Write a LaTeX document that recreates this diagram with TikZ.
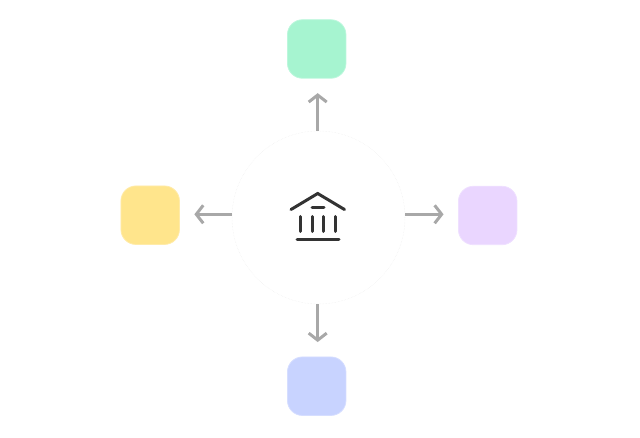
\documentclass[tikz,border=0pt]{standalone}
\usepackage{tikz}
\usetikzlibrary{arrows.meta}

\definecolor{tilegreen}{HTML}{A6F4D0}
\definecolor{tileyellow}{HTML}{FFE58C}
\definecolor{tilepurple}{HTML}{EAD6FF}
\definecolor{tileblue}{HTML}{C8D3FF}
\definecolor{arrowgray}{HTML}{A8A8A8}
\definecolor{bankgray}{HTML}{333333}
\definecolor{hubgray}{HTML}{EEEEEE}

\tikzset{
  tile/.style={draw=#1!75!white, line width=.8pt, fill=#1, rounded corners=15pt, minimum size=58.5pt, inner sep=0pt},
  hub/.style={circle, draw=hubgray, line width=.5pt, densely dotted, minimum size=173pt, inner sep=0pt},
  flow/.style={draw=arrowgray, line width=3pt, shorten >=14.5pt, -{Straight Barb[length=7pt, width=18pt, line width=3pt]}},
  bank/.style={draw=bankgray, line width=3pt, line cap=round, line join=miter},
}

\begin{document}
\begin{tikzpicture}[x=1pt, y=-1pt]
  \useasboundingbox (0,0) rectangle (640,438);
  \node[hub] (center) at (318.5,217.5) {};
  \node[tile=tilegreen] (mint) at (316.7,49) {};
  \node[tile=tileyellow] (sun) at (150.2,215.2) {};
  \node[tile=tilepurple] (lilac) at (487.7,215.5) {};
  \node[tile=tileblue] (sky) at (316.7,386.2) {};
  \coordinate (west) at (232,214.3);
  \coordinate (east) at (405,214.3);
  \coordinate (north) at (317.7,131);
  \coordinate (south) at (317.7,304);
  \draw[flow] (north) -- (north |- mint.south);
  \draw[flow] (west) -- (west -| sun.east);
  \draw[flow] (east) -- (east -| lilac.west);
  \draw[flow] (south) -- (south |- sky.north);
  \draw[bank] (291,209.5) -- (317.7,193.5) -- (344.5,209.5);
  \draw[bank] (312,207.7) -- (324,207.7);
  \foreach \x in {300,312,323.7,335.3} {
    \draw[bank] (\x,216.5) -- (\x,231.5);
  }
  \draw[bank] (297,240) -- (339,240);
\end{tikzpicture}
\end{document}
